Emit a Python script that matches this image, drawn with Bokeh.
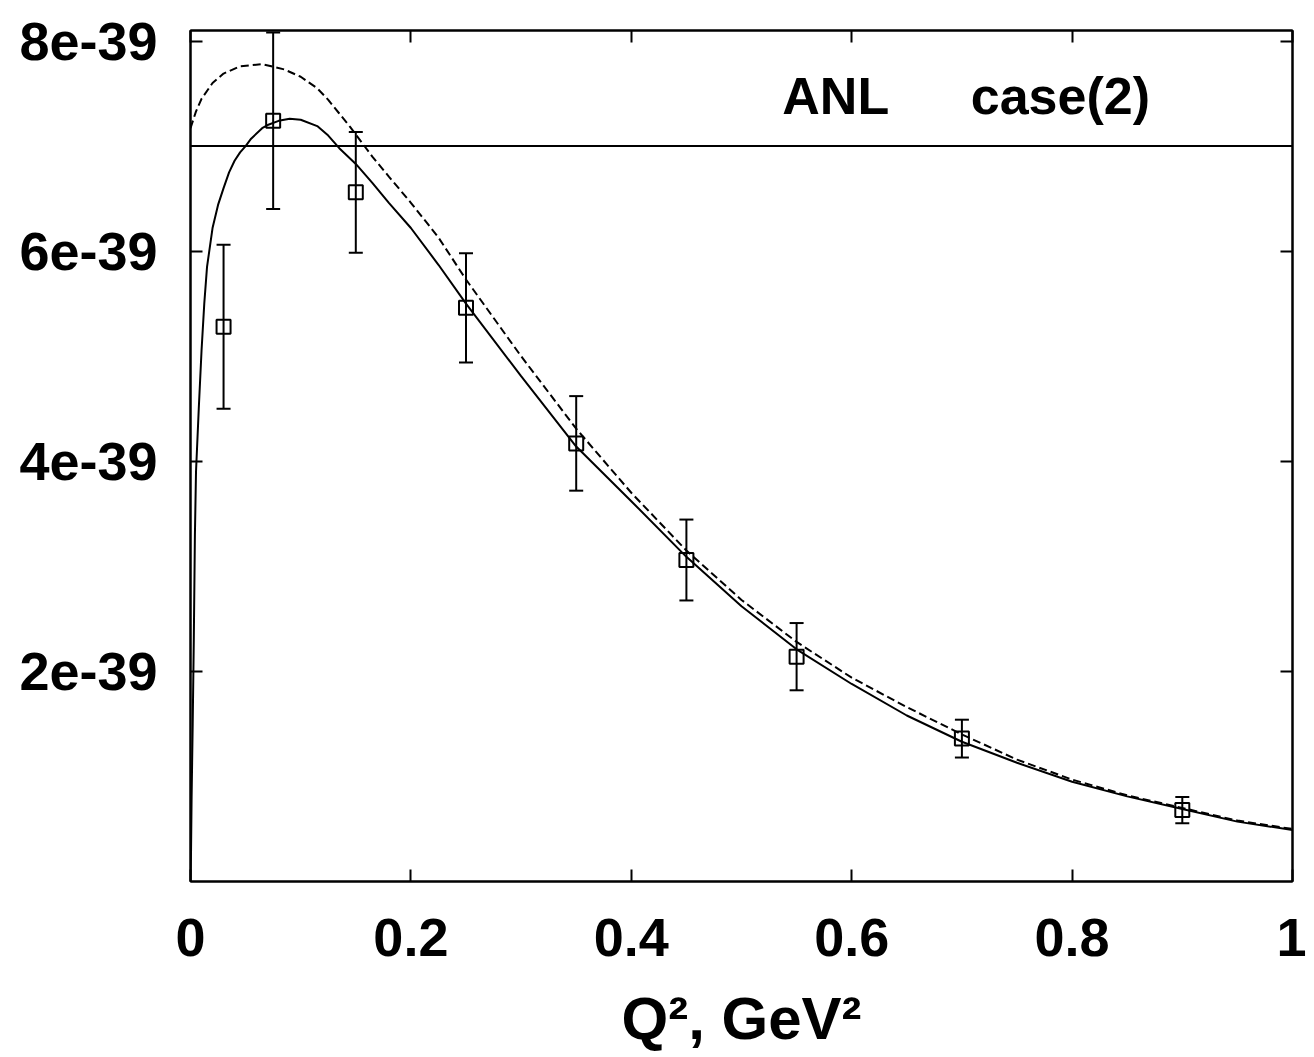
import numpy as np
from bokeh.plotting import figure
from bokeh.models import (Range1d, FixedTicker, LinearAxis, Span, Label, Whisker,
                          TeeHead, ColumnDataSource)
from bokeh.embed import file_html
from bokeh.resources import INLINE

# Cross sections are given in units of 1e-39
q2_data = [0.03, 0.075, 0.15, 0.25, 0.35, 0.45, 0.55, 0.70, 0.90]
sigma_data = [5.28, 7.24, 6.56, 5.46, 4.17, 3.06, 2.14, 1.36, 0.68]
sigma_err = [0.78, 0.84, 0.575, 0.52, 0.45, 0.385, 0.32, 0.18, 0.125]

q2_solid = [0.0, 0.0005, 0.001, 0.002, 0.003, 0.004, 0.005, 0.0075, 0.01, 0.0125,
            0.015, 0.02, 0.025, 0.03, 0.035, 0.04, 0.045, 0.05, 0.055, 0.065, 0.07,
            0.08, 0.09, 0.1, 0.115, 0.125, 0.135, 0.15, 0.165, 0.18, 0.2, 0.225,
            0.25, 0.3, 0.35, 0.4, 0.45, 0.5, 0.55, 0.6, 0.65, 0.7, 0.75, 0.8, 0.85,
            0.9, 0.95, 1.0]
sigma_solid = [0.0, 0.3, 0.8, 1.5, 2.3, 3.3, 3.9, 4.5, 5.05, 5.5,
               5.85, 6.22, 6.44, 6.6, 6.75, 6.86, 6.94, 7.0, 7.07, 7.17, 7.2,
               7.24, 7.26, 7.25, 7.19, 7.1, 6.98, 6.83, 6.65, 6.46, 6.22, 5.87,
               5.50, 4.81, 4.14, 3.62, 3.09, 2.62, 2.21, 1.88, 1.58, 1.33, 1.13, 0.95,
               0.81, 0.69, 0.57, 0.49]

q2_dashed = [0.0, 0.005, 0.01, 0.02, 0.03, 0.045, 0.065, 0.085, 0.1, 0.115, 0.125,
             0.135, 0.145, 0.155, 0.165, 0.18, 0.2, 0.225, 0.25, 0.3, 0.35, 0.4,
             0.45, 0.5, 0.55, 0.6, 0.65, 0.7, 0.75, 0.8, 0.85, 0.9, 0.95, 1.0]
sigma_dashed = [7.17, 7.33, 7.45, 7.6, 7.69, 7.76, 7.78, 7.73, 7.66, 7.55, 7.44,
                7.31, 7.18, 7.04, 6.90, 6.71, 6.46, 6.13, 5.73, 5.0, 4.31, 3.70,
                3.15, 2.68, 2.28, 1.94, 1.66, 1.40, 1.16, 0.97, 0.82, 0.70, 0.58, 0.50]

ref_line_level = 7.0

x_ticks = [0, 0.2, 0.4, 0.6, 0.8, 1.0]
x_tick_labels = ["0", "0.2", "0.4", "0.6", "0.8", "1"]
y_ticks = [2, 4, 6, 8]
y_tick_labels = ["2e-39", "4e-39", "6e-39", "8e-39"]

FONT = "Liberation Sans"

p = figure(width=1306, height=1055, x_range=Range1d(0, 1), y_range=Range1d(0, 8.1),
           output_backend="svg", toolbar_location=None,
           min_border_left=190, min_border_right=14, min_border_top=30,
           min_border_bottom=174)
p.xgrid.visible = False
p.ygrid.visible = False
p.outline_line_color = "black"
p.outline_line_width = 2
p.background_fill_color = "white"
p.border_fill_color = "white"

def style_axis(ax, ticks, labels, show_labels=True):
    ax.ticker = FixedTicker(ticks=ticks)
    ax.axis_line_width = 2
    ax.axis_line_color = "black"
    ax.major_tick_line_width = 2
    ax.major_tick_line_color = "black"
    ax.major_tick_in = 12
    ax.major_tick_out = 0
    ax.minor_tick_line_color = None
    if show_labels:
        ax.major_label_overrides = dict(zip(ticks, labels))
        ax.major_label_text_font = FONT
        ax.major_label_text_font_style = "bold"
        ax.major_label_text_font_size = "54px"
        ax.major_label_text_color = "black"
    else:
        ax.major_label_overrides = {t: "" for t in ticks}
        ax.major_label_text_font_size = "10px"
        ax.major_label_standoff = 0

xb = p.xaxis[0]
yl = p.yaxis[0]
style_axis(xb, x_ticks, x_tick_labels)
style_axis(yl, y_ticks, y_tick_labels)
xb.major_label_standoff = 37
yl.major_label_standoff = 33
xb.axis_label = "Q², GeV²"
xb.axis_label_text_font = FONT
xb.axis_label_text_font_style = "bold"
xb.axis_label_text_font_size = "60px"
xb.axis_label_text_color = "black"
xb.axis_label_standoff = 26

xt = LinearAxis()
style_axis(xt, x_ticks, x_tick_labels, show_labels=False)
p.add_layout(xt, "above")
yr = LinearAxis()
style_axis(yr, y_ticks, y_tick_labels, show_labels=False)
p.add_layout(yr, "right")

# horizontal reference line
p.add_layout(Span(location=ref_line_level, dimension="width", line_color="black", line_width=2))

# curves
p.line(q2_solid, sigma_solid, line_color="black", line_width=2)
p.line(q2_dashed, sigma_dashed, line_color="black", line_width=2, line_dash="8 4")

# data with error bars
lower = [y - e for y, e in zip(sigma_data, sigma_err)]
upper = [y + e for y, e in zip(sigma_data, sigma_err)]
src = ColumnDataSource(dict(x=q2_data, y=sigma_data, lower=lower, upper=upper))
p.add_layout(Whisker(source=src, base="x", lower="lower", upper="upper",
                     line_color="black", line_width=2,
                     upper_head=TeeHead(size=14, line_width=2, line_color="black"),
                     lower_head=TeeHead(size=14, line_width=2, line_color="black")))
p.scatter("x", "y", source=src, marker="square", size=14, fill_color=None,
          line_color="black", line_width=2)

p.add_layout(Label(x=0.537, y=7.48, text="ANL", text_font=FONT, text_font_style="bold",
                   text_font_size="52px", text_color="black", text_baseline="alphabetic"))
p.add_layout(Label(x=0.708, y=7.48, text="case(2)", text_font=FONT, text_font_style="bold",
                   text_font_size="52px", text_color="black", text_baseline="alphabetic"))

open("out.html", "w").write(file_html(p, INLINE))
